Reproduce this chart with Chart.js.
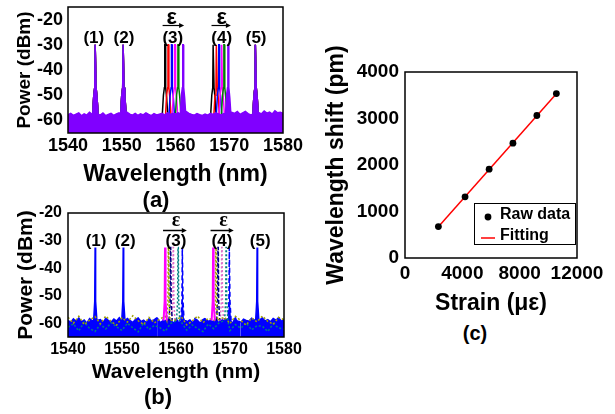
<!DOCTYPE html>
<html>
<head>
<meta charset="utf-8">
<title>FBG strain spectra</title>
<script src="https://cdn.jsdelivr.net/npm/chart.js@4.4.1/dist/chart.umd.min.js"></script>
<style>
  body { margin: 0; width: 615px; height: 414px; background: #fff; position: relative; overflow: hidden;
         font-family: "Liberation Sans", Arial, sans-serif; }
  .panel { position: absolute; }
  .panel canvas { display: block; }
  .cap { position: absolute; font-weight: bold; line-height: 1; transform: translate(-50%, -50%); color: #000; }
</style>
</head>
<body>
<div class="panel" style="left:0;top:0"><canvas id="chartA" width="310" height="190"></canvas></div>
<div class="panel" style="left:0;top:200px"><canvas id="chartB" width="310" height="190"></canvas></div>
<div class="panel" style="left:310px;top:40px"><canvas id="chartC" width="305" height="280"></canvas></div>
<div class="cap" style="left:156px;top:200px;font-size:22px">(a)</div>
<div class="cap" style="left:158px;top:397px;font-size:22px">(b)</div>
<div class="cap" style="left:475px;top:333px;font-size:20px">(c)</div>
<script>
// ---- data ----
const wlTicks = [1540, 1550, 1560, 1570, 1580];
const powerTicks = [-60, -50, -40, -30, -20];
const gratingLabels = ['(1)', '(2)', '(3)', '(4)', '(5)'];

// (a) noise floor of the last trace, one value every 0.5 nm from 1540 nm
const floorA = [
  -57.8, -57.2, -58.0, -57.5, -57.0, -58.2, -57.4, -57.9, -56.8, -57.6,
  -56.5, -57.3, -57.9, -57.1, -58.1, -57.6, -57.2, -58.0, -57.4, -57.0,
  -55.0, -55.5, -56.8, -57.5, -57.9, -57.2, -58.0, -57.4, -57.8, -57.0,
  -57.6, -58.1, -57.3, -57.8, -57.5, -57.2, -57.9, -57.0, -57.6, -57.3,
  -57.4, -57.0, -56.5, -55.8, -56.5, -57.2, -57.6, -57.9, -57.3, -57.7,
  -58.0, -57.5, -57.9, -57.2, -57.6, -57.0, -57.4, -57.8, -57.3, -57.6,
  -56.0, -56.8, -57.2, -56.5, -57.6, -57.0, -56.4, -57.3, -57.8, -56.6,
  -56.0, -56.9, -57.4, -56.3, -57.1, -56.7, -57.5, -56.2, -57.0, -56.8,
  -57.2
];
const fixedPeaksA = [1545.1, 1550.3, 1574.9];          // gratings (1), (2), (5)
const peak3A = [1558.05, 1558.65, 1559.3, 1559.9, 1560.5, 1561.4];
const peak4A = [1567.05, 1567.65, 1568.1, 1568.6, 1569.05, 1569.8];
const colorsA = ['#000000', '#ff0000', '#0000ff', '#ff00ff', '#008000', '#8000ff'];

// (b) noise floors: blue trace every 0.5 nm, two dotted traces every 1 nm
const floorB = [
  -59.0, -59.7, -58.4, -59.3, -58.1, -59.5, -58.8, -60.0, -58.3, -59.1,
  -57.9, -59.4, -58.7, -59.8, -58.2, -59.0, -59.6, -58.5, -59.2, -58.0,
  -58.8, -59.5, -58.3, -59.1, -59.7, -58.6, -58.1, -59.4, -58.9, -59.8,
  -58.4, -59.2, -58.7, -58.0, -59.5, -58.9, -59.3, -58.2, -59.0, -59.6,
  -58.5, -59.4, -58.8, -58.1, -59.2, -58.6, -59.7, -58.3, -59.0, -59.5,
  -58.7, -58.1, -59.4, -58.8, -59.2, -58.4, -59.6, -58.9, -58.2, -59.3,
  -58.6, -59.5, -58.0, -59.1, -59.7, -58.5, -59.0, -59.3, -58.2, -58.8,
  -59.4, -58.6, -58.1, -59.2, -58.7, -59.5, -58.3, -58.9, -58.0, -59.3,
  -58.7
];
const floorOliveB = [
  -57.8, -60.0, -57.5, -60.5, -58.9, -57.6, -60.2, -57.4, -59.4, -60.7,
  -58.0, -59.6, -57.3, -59.1, -60.5, -57.9, -59.9, -58.5, -57.5, -60.3,
  -58.8, -57.7, -60.6, -59.2, -57.4, -59.8, -58.2, -60.5, -58.6, -57.8,
  -60.1, -57.5, -59.0, -60.7, -58.1, -59.5, -57.4, -59.3, -60.4, -57.9,
  -58.7
];
const floorCyanB = [
  -61.5, -60.2, -62.8, -59.6, -61.9, -63.0, -60.4, -62.1, -59.8, -61.3,
  -62.6, -60.0, -61.7, -63.1, -59.9, -62.3, -60.8, -61.6, -62.9, -60.1,
  -61.2, -59.7, -62.5, -60.6, -61.9, -63.0, -60.3, -62.0, -59.8, -61.4,
  -62.7, -60.5, -61.8, -59.9, -62.4, -60.9, -61.1, -63.0, -60.2, -61.7,
  -62.2
];
const fixedPeaksB = [1545.05, 1550.25, 1575.05];
const peak3B = [1558.0, 1558.6, 1559.0, 1559.5, 1560.4, 1561.2];
const peak4B = [1566.9, 1567.4, 1567.8, 1568.5, 1569.3, 1569.9];
const colorsB = ['#ff00ff', '#a0a000', '#000080', '#e070c8', '#008080', '#0000ff'];
const dashB = [[], [2, 2], [4, 2], [2, 2], [2, 2], [5, 3]];

// peak line shapes: offset from centre (nm) and level (dBm)
const shapeDxA = [-0.5, -0.3, -0.12, -0.05, 0.05, 0.12, 0.3, 0.5];
const shapeDbA = [-57.5, -50, -47, -30, -30, -47, -51, -57.5];
const shapeDxB = [-0.3, -0.1, -0.03, 0.03, 0.1, 0.3];
const shapeDbB = [-59, -52, -32.5, -32.5, -52, -59];

// (c) strain response
const strain = [2330, 4190, 5870, 7530, 9200, 10560];
const shift = [675, 1315, 1910, 2470, 3065, 3535];
const fitStrain = [2330, 10560];
const fitShift = [672, 3533];
const strainTicks = [0, 4000, 8000, 12000];
const shiftTicks = [0, 1000, 2000, 3000, 4000];

const FONT = '"Liberation Sans", Arial, sans-serif';

// floor samples + peak shapes -> one trace
function spectrum(floor, step, centers, dx, db) {
  const pts = [];
  if (floor) {
    floor.forEach((v, i) => {
      const x = 1540 + i * step;
      if (centers.every(c => Math.abs(x - c) > 0.5)) pts.push({ x: x, y: v });
    });
  }
  centers.forEach(c => {
    dx.forEach((d, j) => pts.push({ x: c + d, y: db[j] }));
    if (!floor) pts.push({ x: c + 0.6, y: null });
  });
  return pts.sort((a, b) => a.x - b.x);
}

// box around the plot area
const frame = {
  id: 'frame',
  afterDraw(chart) {
    const { ctx, chartArea: a } = chart;
    ctx.save();
    ctx.strokeStyle = '#000';
    ctx.lineWidth = 1.5;
    ctx.strokeRect(a.left, a.top, a.right - a.left, a.bottom - a.top);
    ctx.restore();
  }
};

// grating numbers and strain arrows
const annotate = {
  id: 'annotate',
  afterDatasetsDraw(chart, args, o) {
    const { ctx, scales: { x, y } } = chart;
    ctx.save();
    ctx.fillStyle = '#000';
    ctx.strokeStyle = '#000';
    ctx.textAlign = 'center';
    ctx.textBaseline = 'middle';
    ctx.font = o.font;
    gratingLabels.forEach((t, i) => ctx.fillText(t, x.getPixelForValue(o.labelX[i]), y.getPixelForValue(o.labelY)));
    ctx.font = o.epsFont;
    ctx.textBaseline = 'alphabetic';
    ctx.lineWidth = o.arrowWidth;
    o.epsX.forEach((ex, i) => {
      ctx.fillText('ε', x.getPixelForValue(ex), y.getPixelForValue(o.epsY));
      const x1 = x.getPixelForValue(o.arrowFrom[i]);
      const x2 = x.getPixelForValue(o.arrowTo[i]);
      const ay = Math.round(y.getPixelForValue(o.arrowY)) + 0.5;
      ctx.beginPath();
      ctx.moveTo(x1, ay);
      ctx.lineTo(x2 - 3, ay);
      ctx.stroke();
      ctx.beginPath();
      ctx.moveTo(x2, ay);
      ctx.lineTo(x2 - 5, ay - 2.5);
      ctx.lineTo(x2 - 5, ay + 2.5);
      ctx.closePath();
      ctx.fill();
    });
    ctx.restore();
  }
};

const plain = v => String(v);

function spectrumOptions(p) {
  return {
    responsive: false,
    animation: false,
    layout: { padding: { top: p.top, right: p.right, left: 0, bottom: 0 } },
    plugins: { legend: { display: false }, tooltip: { enabled: false }, annotate: p.annotate },
    elements: { point: { radius: 0 }, line: { tension: 0 } },
    scales: {
      x: {
        type: 'linear', min: 1540, max: 1580,
        grid: { display: false, drawTicks: false }, border: { display: false },
        afterBuildTicks: s => { s.ticks = wlTicks.map(v => ({ value: v })); },
        afterFit: s => { s.height = p.xh; s.paddingLeft = 0; s.paddingRight = 0; },
        ticks: { color: '#000', font: { family: FONT, size: p.tick, weight: 'bold' }, padding: p.xPad,
                 maxRotation: 0, autoSkip: false, callback: plain },
        title: { display: true, text: 'Wavelength (nm)', color: '#000',
                 font: { family: FONT, size: p.xt, weight: 'bold' }, padding: { top: 0, bottom: p.xtPad } }
      },
      y: {
        min: -65, max: p.yMax,
        grid: { display: false, drawTicks: false }, border: { display: false },
        afterBuildTicks: s => { s.ticks = powerTicks.map(v => ({ value: v })); },
        afterFit: s => { s.width = 68; s.paddingTop = 0; s.paddingBottom = 0; },
        ticks: { color: '#000', font: { family: FONT, size: p.tick, weight: 'bold' }, padding: p.yPad,
                 autoSkip: false, callback: plain },
        title: { display: true, text: 'Power (dBm)', color: '#000',
                 font: { family: FONT, size: p.yt, weight: 'bold' }, padding: { top: p.ytPad, bottom: 0 } }
      }
    }
  };
}

// ---- (a) ----
const dsA = [];
for (let i = colorsA.length - 1; i >= 0; i--) {
  const last = i === colorsA.length - 1;
  dsA.push({
    data: spectrum(last ? floorA : null, 0.5, fixedPeaksA.concat([peak3A[i], peak4A[i]]), shapeDxA, shapeDbA),
    borderColor: colorsA[i],
    backgroundColor: colorsA[i],
    borderWidth: 1.5,
    fill: last ? 'start' : false
  });
}
new Chart(document.getElementById('chartA'), {
  type: 'line',
  data: { datasets: dsA },
  options: spectrumOptions({
    top: 7, right: 27, xh: 57, yMax: -15, tick: 18, xPad: 2, yPad: 5, xt: 23, xtPad: 2, yt: 19, ytPad: 13,
    annotate: {
      font: 'bold 17px ' + FONT,
      labelX: [1544.8, 1550.4, 1559.5, 1568.6, 1575.0], labelY: -27.3,
      epsFont: 'bold 22px ' + FONT, epsX: [1559.3, 1568.6], epsY: -21.7,
      arrowFrom: [1557.6, 1566.7], arrowTo: [1561.6, 1570.3], arrowY: -22.3, arrowWidth: 1.2
    }
  }),
  plugins: [frame, annotate]
});

// ---- (b) ----  fixed gratings are seen through the blue trace
const floorsB = [null, floorOliveB, null, null, floorCyanB, floorB];
const stepsB = [1, 1, 1, 1, 1, 0.5];
const lastB = colorsB.length - 1;
const dsB = colorsB.map((c, i) => ({
  data: spectrum(floorsB[i], stepsB[i],
                 (i === lastB ? fixedPeaksB : []).concat([peak3B[i], peak4B[i]]), shapeDxB, shapeDbB),
  borderColor: c,
  backgroundColor: c,
  borderWidth: i === 0 ? 2 : 1.5,
  borderDash: i === lastB ? [] : dashB[i],
  // the blue trace is dashed only where its shifting peaks stand out
  segment: i === lastB ? {
    borderDash: s => (s.p0.parsed.x > 1556 && s.p0.parsed.x < 1572 ? dashB[i] : undefined)
  } : undefined,
  fill: i === lastB ? 'start' : false
}));
new Chart(document.getElementById('chartB'), {
  type: 'line',
  data: { datasets: dsB },
  options: spectrumOptions({
    top: 13, right: 26, xh: 53, yMax: -20, tick: 16, xPad: 3, yPad: 6, xt: 21, xtPad: 5, yt: 21, ytPad: 14,
    annotate: {
      font: 'bold 17px ' + FONT,
      labelX: [1545.2, 1550.6, 1560.0, 1568.5, 1575.6], labelY: -30.4,
      epsFont: 'bold 20px "Liberation Serif", serif', epsX: [1560.0, 1568.8], epsY: -24.8,
      arrowFrom: [1557.6, 1566.4], arrowTo: [1562.0, 1570.7], arrowY: -26.0, arrowWidth: 1.5
    }
  }),
  plugins: [frame, annotate]
});

// ---- (c) ----
const insideLegend = {
  id: 'insideLegend',
  afterDraw(chart, args, o) {
    const { ctx, chartArea: a } = chart;
    const x0 = Math.round(a.right - o.right - o.width);
    const y0 = Math.round(a.bottom - o.bottom - o.height);
    ctx.save();
    ctx.strokeStyle = '#000';
    ctx.lineWidth = 1;
    ctx.strokeRect(x0 + 0.5, y0 + 0.5, o.width, o.height);
    ctx.font = o.font;
    ctx.textBaseline = 'middle';
    chart.data.datasets.forEach((ds, i) => {
      const y = y0 + o.rows[i];
      if (ds.showLine) {
        ctx.strokeStyle = ds.borderColor;
        ctx.lineWidth = ds.borderWidth;
        ctx.beginPath();
        ctx.moveTo(x0 + 7, y + 2);
        ctx.lineTo(x0 + 21, y + 2);
        ctx.stroke();
      } else {
        ctx.fillStyle = ds.pointBackgroundColor;
        ctx.beginPath();
        ctx.arc(x0 + 14, y + 2, ds.pointRadius, 0, Math.PI * 2);
        ctx.fill();
      }
      ctx.fillStyle = '#000';
      ctx.fillText(ds.label, x0 + 26, y);
    });
    ctx.restore();
  }
};

new Chart(document.getElementById('chartC'), {
  type: 'scatter',
  data: {
    datasets: [
      { label: 'Raw data', data: strain.map((s, i) => ({ x: s, y: shift[i] })),
        pointRadius: 3.4, pointBackgroundColor: '#000', pointBorderWidth: 0, showLine: false },
      { label: 'Fitting', data: fitStrain.map((s, i) => ({ x: s, y: fitShift[i] })),
        showLine: true, borderColor: '#ff0000', borderWidth: 1.5, pointRadius: 0 }
    ]
  },
  options: {
    responsive: false,
    animation: false,
    layout: { padding: { top: 32, right: 38, left: 0, bottom: 0 } },
    plugins: {
      legend: { display: false }, tooltip: { enabled: false },
      insideLegend: { width: 101, height: 41, right: 2, bottom: 14, rows: [12, 33], font: 'bold 16px ' + FONT }
    },
    scales: {
      x: {
        type: 'linear', min: 0, max: 12000,
        grid: { display: false, drawTicks: false }, border: { display: false },
        afterBuildTicks: s => { s.ticks = strainTicks.map(v => ({ value: v })); },
        afterFit: s => { s.height = 62; s.paddingLeft = 0; s.paddingRight = 0; },
        ticks: { color: '#000', font: { family: FONT, size: 19, weight: 'bold' }, padding: 4,
                 maxRotation: 0, autoSkip: false, callback: plain },
        title: { display: true, text: 'Strain (με)', color: '#000',
                 font: { family: FONT, size: 23, weight: 'bold' }, padding: { top: 0, bottom: 3 } }
      },
      y: {
        min: 0, max: 4000,
        grid: { display: false, drawTicks: false }, border: { display: false },
        afterBuildTicks: s => { s.ticks = shiftTicks.map(v => ({ value: v })); },
        afterFit: s => { s.width = 95; s.paddingTop = 0; s.paddingBottom = 0; },
        ticks: { color: '#000', font: { family: FONT, size: 19, weight: 'bold' }, padding: 6,
                 autoSkip: false, callback: plain },
        title: { display: true, text: 'Wavelength shift (pm)', color: '#000',
                 font: { family: FONT, size: 23, weight: 'bold' }, padding: { top: 13, bottom: 0 } }
      }
    }
  },
  plugins: [frame, insideLegend]
});
</script>
</body>
</html>
